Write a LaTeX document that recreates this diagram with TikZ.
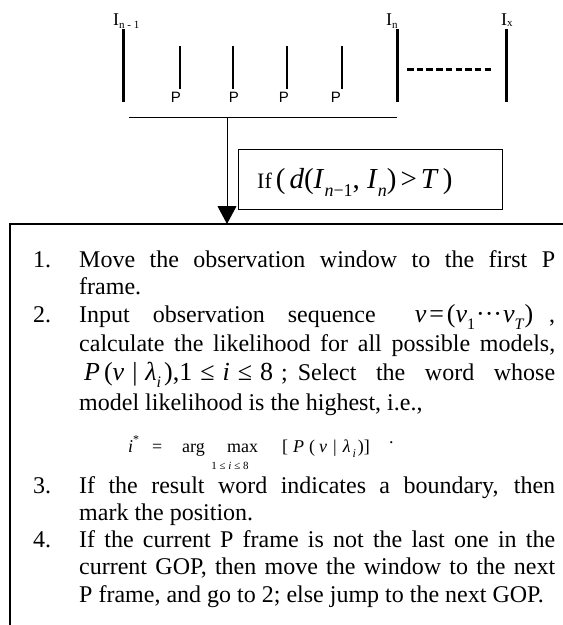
\documentclass[tikz,border=0pt]{standalone}
\usepackage{fontspec}
\setmainfont{Liberation Serif}
\newfontfamily\arialf{Liberation Sans}
\usetikzlibrary{arrows.meta}
\newcommand\myit[1]{\textit{#1}}
\newcommand\mysb[2]{\raisebox{-0.3em}{\fontsize{#1}{#1}\selectfont #2}}
\begin{document}
\begin{tikzpicture}[x=1pt,y=-1pt,
  bigbar/.style={line width=3pt},
  pbar/.style={line width=2.6pt},
  thinline/.style={line width=1pt},
  framelbl/.style={anchor=base west,inner sep=0pt,font=\fontsize{18}{18}\selectfont},
  plbl/.style={anchor=base,inner sep=0pt,font=\arialf\fontsize{15}{15}\selectfont},
  body/.style={anchor=base west,inner sep=0pt,font=\fontsize{24}{28}\selectfont},
  formula/.style={anchor=base west,inner sep=0pt,font=\fontsize{18}{18}\selectfont}]
\useasboundingbox (0,0) rectangle (563,625);
% ---- top timeline
\draw[bigbar] (123,29) -- (123,102);
\draw[bigbar] (397,29) -- (397,102);
\draw[bigbar] (506,29) -- (506,102);
\foreach \x in {180,233,287,342} \draw[pbar] (\x,46) -- (\x,89);
\draw[line width=3pt, dash pattern=on 6.5pt off 3.2pt] (407,69) -- (494,69);
\node[framelbl] (lIa) at (113,25) {I\raisebox{-0.2em}{\fontsize{11}{11}\selectfont n - 1}};
\node[framelbl] (lIb) at (386,25) {I\raisebox{-0.2em}{\fontsize{11}{11}\selectfont n}};
\node[framelbl] (lIc) at (501,25) {I\raisebox{-0.1em}{\fontsize{11}{11}\selectfont x}};
\node[plbl] (p1) at (176,102) {P};
\node[plbl] (p2) at (234,102) {P};
\node[plbl] (p3) at (284,102) {P};
\node[plbl] (p4) at (336,102) {P};
\coordinate (hl) at (129,117);
\coordinate (hr) at (397,117);
\coordinate (hm) at (227,117);
\draw[thinline] (hl) -- (hr);
% ---- lower frame
\coordinate (tr) at (563,224);
\coordinate (tl) at (10,224);
\coordinate (bl) at (10,625);
\coordinate (tip) at (227,224);
\draw[line width=2pt] (tr) -- (tl) -- (bl);
\draw[thinline,-{Triangle[length=18pt,width=19pt]}] (hm) -- (tip);
% ---- condition box
\node[draw,line width=1pt,anchor=north west,minimum width=264,minimum height=60,inner sep=0pt] (cond) at (238,149) {};
\node[anchor=base west,inner sep=0pt] (condtxt) at (257,188)
 {{\fontsize{22}{22}\selectfont If}{\fontsize{29}{29}\selectfont\hspace{4pt}(\hspace{4pt}\myit{d}(\myit{I}\mysb{18}{\myit{n}−1}, \myit{I}\mysb{18}{\myit{n}})\hspace{4pt}>\hspace{4pt}\myit{T}\hspace{4pt})}};
% ---- step texts
\node[body] (n1) at (33,267) {1.};
\node[body] (t1a) at (79,267) {\makebox[476pt][s]{Move the observation window to the first P}};
\node[body] (t1b) at (79,294) {frame.};
\node[body] (n2) at (33,322) {2.};
\node[body] (t2a) at (79,322) {\makebox[476pt][s]{Input observation sequence \hspace{16pt}{\fontsize{26}{26}\selectfont\myit{v}\hspace{3pt}=\hspace{3pt}(\myit{v}\mysb{16}{1}\hspace{1pt}···\hspace{1pt}\myit{v}\mysb{16}{\myit{T}})}\hspace{16pt},}};
\node[body] (t2b) at (79,351) {\makebox[476pt][s]{calculate the likelihood for all possible models,}};
\node[body] (t2c) at (79,380) {\makebox[476pt][s]{{\fontsize{26}{26}\selectfont\hspace{5pt}\myit{P}\hspace{4pt}(\myit{v}\hspace{8pt}|\hspace{8pt}\myit{λ}\mysb{16}{\myit{i}}\hspace{3pt}),1\hspace{8pt}≤\hspace{8pt}\myit{i}\hspace{8pt}≤\hspace{8pt}8}\hspace{8pt};\hspace{10pt}Select the word whose}};
\node[body] (t2d) at (79,410) {model likelihood is the highest, i.e.,};
\node[formula] (f1) at (128,452) {\myit{i}\raisebox{0.45em}{\fontsize{12}{12}\selectfont *}};
\node[formula] (f2) at (152,452) {=};
\node[formula] (f3) at (182,452) {arg};
\node[formula] (f4) at (227,452) {max};
\node[anchor=base,inner sep=0pt,font=\fontsize{11}{11}\selectfont] (f5) at (230,469) {1 ≤ \myit{i} ≤ 8};
\node[formula] (f6) at (282,452) {[\hspace{5pt}\myit{P}\hspace{5pt}(\hspace{4pt}\myit{v}\hspace{6pt}|\hspace{6pt}\myit{λ}\hspace{2pt}\mysb{12}{\myit{i}}\hspace{2pt})]};
\node[formula] (f7) at (389,443) {.};
\node[body] (n3) at (33,493) {3.};
\node[body] (t3a) at (79,493) {\makebox[476pt][s]{If the result word indicates a boundary, then}};
\node[body] (t3b) at (79,520) {mark the position.};
\node[body] (n4) at (33,547) {4.};
\node[body] (t4a) at (79,547) {\makebox[476pt][s]{If the current P frame is not the last one in the}};
\node[body] (t4b) at (79,574) {\makebox[476pt][s]{current GOP, then move the window to the next}};
\node[body] (t4c) at (79,602) {P frame, and go to 2; else jump to the next GOP.};
\end{tikzpicture}
\end{document}
